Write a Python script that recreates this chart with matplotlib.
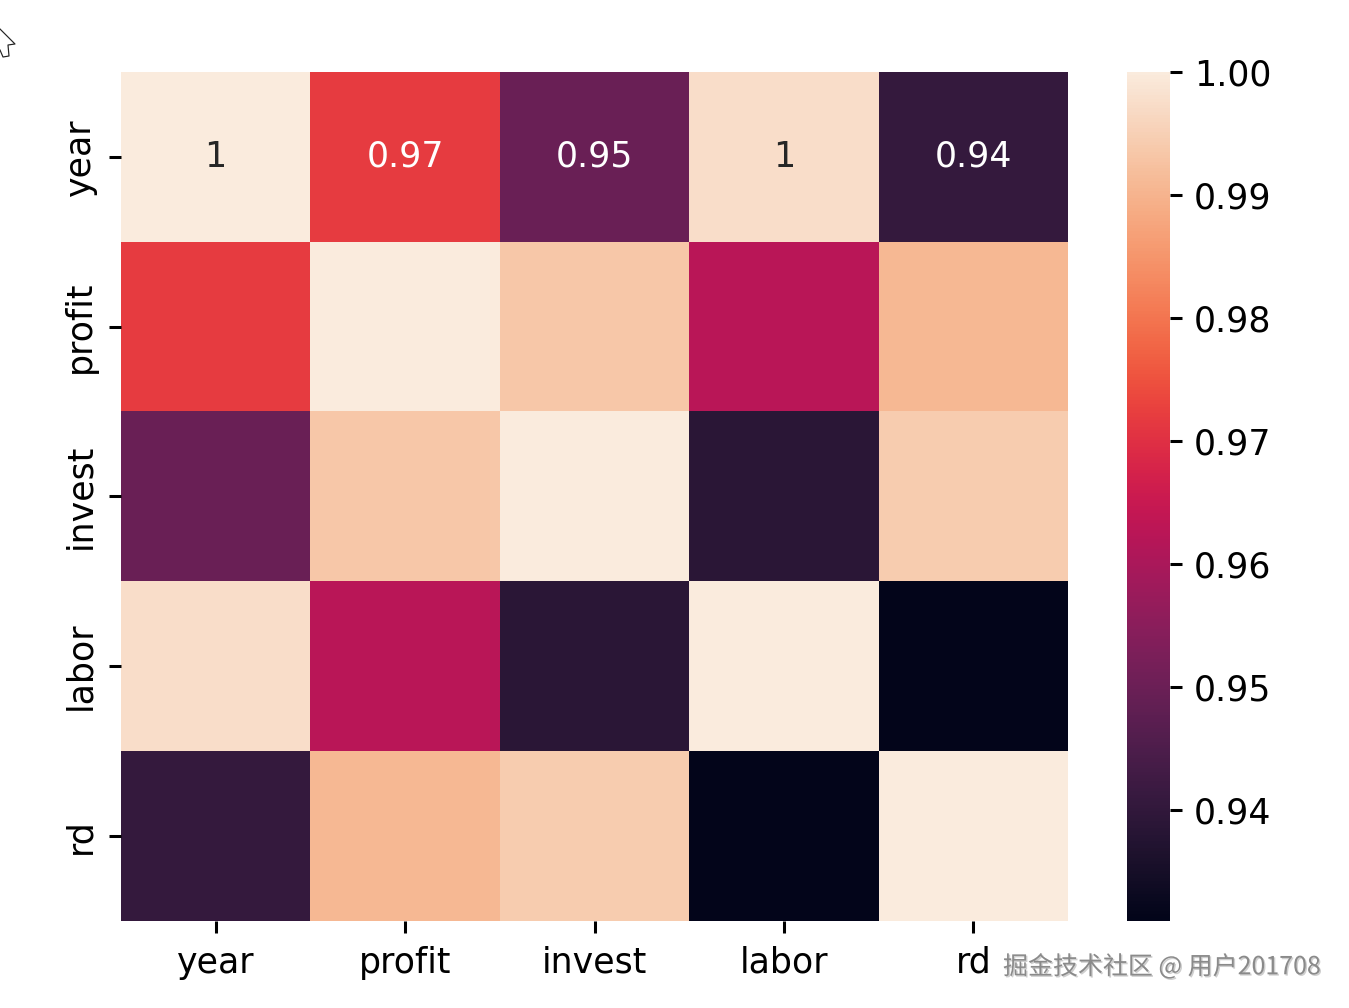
import numpy as np
import matplotlib
matplotlib.use("Agg")
import matplotlib.pyplot as plt
from matplotlib.lines import Line2D
import matplotlib.patheffects as pe
import seaborn as sns

labels = ["year", "profit", "invest", "labor", "rd"]
row_year = [1.000, 0.9718, 0.9497, 0.9975, 0.9407]
row_profit = [0.9718, 1.000, 0.9935, 0.9625, 0.9908]
row_invest = [0.9497, 0.9935, 1.000, 0.9388, 0.9942]
row_labor = [0.9975, 0.9625, 0.9388, 1.000, 0.9310]
row_rd = [0.9407, 0.9908, 0.9942, 0.9310, 1.000]
matrix = np.array([row_year, row_profit, row_invest, row_labor, row_rd])

W, H, DPI = 1349, 1008, 243
plt.rcParams["font.size"] = 10.3
plt.rcParams["xtick.labelsize"] = 10.3
plt.rcParams["ytick.labelsize"] = 10.3
plt.rcParams["xtick.major.pad"] = 3.9
plt.rcParams["ytick.major.pad"] = 3.5
plt.rcParams["xtick.major.width"] = 0.9
plt.rcParams["ytick.major.width"] = 0.9
fig = plt.figure(figsize=(W / DPI, H / DPI), dpi=DPI)


def box(l, t, r, b):
    return [l / W, 1 - b / H, (r - l) / W, (b - t) / H]


ax = fig.add_axes(box(121, 72, 1068, 920.7))
cax = fig.add_axes(box(1127, 72, 1170, 920.7))
sns.heatmap(matrix, annot=True, xticklabels=labels, yticklabels=labels, ax=ax, cbar_ax=cax,
            annot_kws={"fontsize": 10.3})
# only the top row carries annotations in the reference
for t in ax.texts[len(labels):]:
    t.set_visible(False)
ax.tick_params(axis="y", labelrotation=90)
for t in ax.get_yticklabels():
    t.set_va("center")
cax.set_yticks([0.94, 0.95, 0.96, 0.97, 0.98, 0.99, 1.00])
cax.set_yticklabels(["0.94", "0.95", "0.96", "0.97", "0.98", "0.99", "1.00"])

fig.text(1003 / W, 1 - 967 / H, "掘金技术社区 @ 用户201708", fontsize=7.4, color="#8a8a8a",
         va="center", ha="left", family=["Noto Sans CJK SC", "DejaVu Sans"],
         path_effects=[pe.withSimplePatchShadow(offset=(0.4, -0.4), shadow_rgbFace="#bbbbbb", alpha=0.7)])

# mouse-pointer artefact in the top-left corner of the screenshot
cx = [0, 15, 8, 9, 3, 0]
cy = [29, 44, 45, 56, 57, 50]
fig.add_artist(Line2D([x / W for x in cx], [1 - y / H for y in cy], color="#222222", lw=0.35))

fig.savefig("out.png", dpi=DPI)
